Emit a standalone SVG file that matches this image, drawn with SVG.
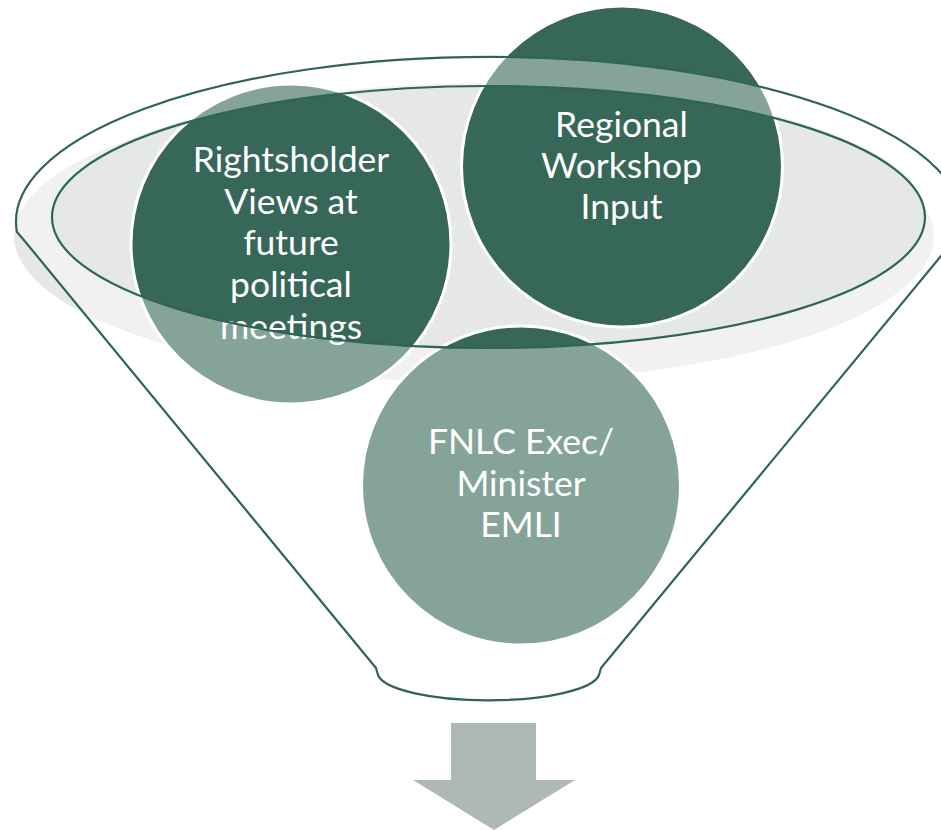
<svg xmlns="http://www.w3.org/2000/svg" width="941" height="830" viewBox="0 0 941 830">
  <style>
    .shade { fill: #E6E8E6; }
    .node circle { fill: #366758; stroke: #FFFFFF; stroke-width: 3; }
    .node text { fill: #FFFFFF; font-family: Lato, "Open Sans", "Liberation Sans", sans-serif; font-size: 35.5px; text-anchor: middle; }
    .overlay { fill: #FFFFFF; fill-opacity: 0.4; fill-rule: evenodd; stroke: none; }
    .outline { fill: none; stroke: #2F6553; stroke-width: 2.2; stroke-linejoin: round; }
    .arrow { fill: #AEB8B4; }
  </style>
  <rect width="941" height="830" fill="#FFFFFF"/>

  <g id="funnel-shading">
    <ellipse class="shade" cx="488.5" cy="215" rx="437" ry="132"/>
    <ellipse class="shade" cx="474" cy="236" rx="460" ry="146"/>
  </g>

  <g id="node-rightsholder" class="node">
    <circle cx="291" cy="244" r="160"/>
    <text x="291" y="172">Rightsholder</text>
    <text x="291" y="213.5">Views at</text>
    <text x="291" y="255">future</text>
    <text x="291" y="297">political</text>
    <text x="291" y="338.5">meetings</text>
  </g>

  <g id="node-regional" class="node">
    <circle cx="622" cy="166.5" r="160.5"/>
    <text x="621.5" y="137">Regional</text>
    <text x="621.5" y="178">Workshop</text>
    <text x="621.5" y="219">Input</text>
  </g>

  <g id="node-fnlc" class="node">
    <circle cx="521" cy="485.5" r="159.5"/>
    <text x="521" y="454">FNLC Exec/</text>
    <text x="521" y="495.5">Minister</text>
    <text x="521" y="537">EMLI</text>
  </g>

  <g id="funnel">
    <path class="overlay" d="M 23 239 L 16.9 232 A 473 165 0 1 1 961.1 232 L 955 239 L 601 668 L 599 675 A 111 28 0 0 1 378 675 L 376 668 Z M 52 217 A 436.5 131 0 1 0 925 217 A 436.5 131 0 1 0 52 217 Z"/>
    <path class="outline" d="M 23 239 L 16.9 232 A 473 165 0 1 1 961.1 232 L 955 239 L 601 668 L 599 675 A 111 28 0 0 1 378 675 L 376 668 Z"/>
    <ellipse class="outline" cx="488.5" cy="217" rx="436.5" ry="131"/>
  </g>

  <g id="connectors">
    <polygon class="arrow" points="451,723 536,723 536,780 575,780 494,830 413,780 451,780"/>
  </g>
</svg>
